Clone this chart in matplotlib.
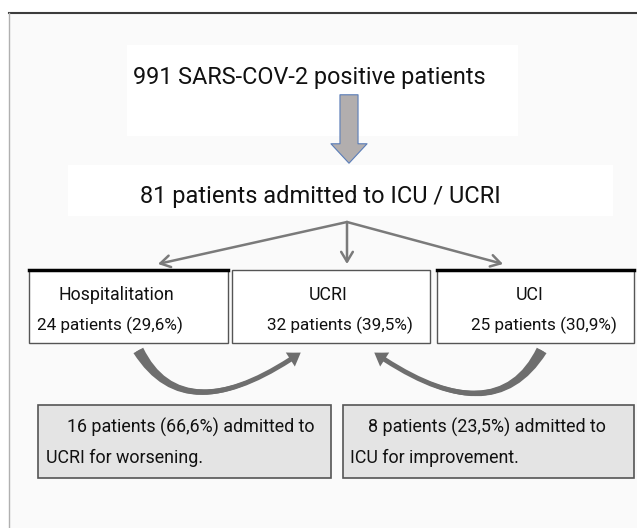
import matplotlib
matplotlib.use('Agg')
import matplotlib.pyplot as plt
from matplotlib import font_manager
from matplotlib.patches import Rectangle, FancyArrowPatch

# flow chart content
total_positive = 991
icu_total = 81
wards = ['Hospitalitation', 'UCRI', 'UCI']
ward_patients = [24, 32, 25]
ward_pct = ['29,6', '39,5', '30,9']
transfer_patients = [16, 8]
transfer_pct = ['66,6', '23,5']
transfer_lines = [['admitted to', 'UCRI for worsening.'],
                  ['admitted to', 'ICU for improvement.']]


def pick_font(names):
    for n in names:
        try:
            font_manager.findfont(n, fallback_to_default=False)
            return n
        except ValueError:
            pass
    return 'DejaVu Sans'


font = pick_font(['Roboto', 'Lato'])
plt.rcParams['font.family'] = [font, 'DejaVu Sans']

fig = plt.figure(figsize=(6.37, 5.28), dpi=100)
ax = fig.add_axes([0, 0, 1, 1])
ax.set_xlim(0, 637)
ax.set_ylim(528, 0)
ax.axis('off')

# frame / background
ax.add_patch(Rectangle((9, 13), 628, 515, facecolor='#fafafa', edgecolor='none'))
ax.plot([9, 637], [13, 13], color='#3c3c3c', lw=1.5)
ax.plot([9, 9], [13, 528], color='#b0b0b0', lw=1)

# top two white labels
ax.add_patch(Rectangle((127, 45), 391, 91, facecolor='white', edgecolor='none'))
ax.text(309, 84, f'{total_positive} SARS-COV-2 positive patients',
        ha='center', va='baseline', fontsize=16.8, color='#111111')

ax.add_patch(FancyArrowPatch((349, 92), (349, 166),
                             arrowstyle='simple,head_length=14,head_width=26,tail_width=13',
                             mutation_scale=1, facecolor='#b2aeae',
                             edgecolor='#5a7db8', lw=0.8))

ax.add_patch(Rectangle((68, 165), 545, 51, facecolor='white', edgecolor='none'))
ax.text(320, 203, f'{icu_total} patients admitted to ICU / UCRI',
        ha='center', va='baseline', fontsize=17, color='#111111')

# split arrows
for tx in [158, 347, 503]:
    ax.annotate('', xy=(tx, 264), xytext=(347, 222),
                arrowprops=dict(arrowstyle='->,head_length=0.5,head_width=0.3',
                                color='#7a7a7a', lw=1.8, mutation_scale=14,
                                shrinkA=0, shrinkB=0))

# ward boxes
box_x = [29, 232, 437]
box_w = [199, 198, 197]
label_x = [116, 328, 530]
count_x = [37, 267, 471]
for i in range(3):
    ax.add_patch(Rectangle((box_x[i], 270), box_w[i], 73, facecolor='white',
                           edgecolor='#555555', lw=1))
    if i != 1:
        ax.plot([box_x[i], box_x[i] + box_w[i]], [270, 270], color='black', lw=2.5)
    ax.text(label_x[i], 300, wards[i], ha='center', va='baseline',
            fontsize=12.8, color='#111111')
    ax.text(count_x[i], 330, f'{ward_patients[i]} patients ({ward_pct[i]}%)',
            ha='left', va='baseline', fontsize=12.3, color='#111111')

# curved transfer arrows: tapering wedge + arrow head
curves = [((137, 348), (303, 351), -62, 35), ((543, 348), (372, 351), 62, -35)]
for start, end, a_in, a_out in curves:
    conn = f'angle3,angleA={a_in},angleB={a_out}'
    ax.add_patch(FancyArrowPatch(start, end, connectionstyle=conn,
                                 arrowstyle='wedge,tail_width=8,shrink_factor=0.5',
                                 mutation_scale=1, facecolor='#6e6e6e',
                                 edgecolor='none'))
    ax.add_patch(FancyArrowPatch(start, end, connectionstyle=conn,
                                 arrowstyle='simple,head_length=9,head_width=12,tail_width=3.5',
                                 mutation_scale=1, facecolor='#6e6e6e',
                                 edgecolor='none'))

# grey transfer boxes
tbox_x = [38, 343]
tbox_w = [293, 291]
line1_x = [67, 368]
line2_x = [46, 350]
for i in range(2):
    ax.add_patch(Rectangle((tbox_x[i], 405), tbox_w[i], 73, facecolor='#e4e4e4',
                           edgecolor='#555555', lw=1.2))
    ax.text(line1_x[i], 433,
            f'{transfer_patients[i]} patients ({transfer_pct[i]}%) {transfer_lines[i][0]}',
            ha='left', va='baseline', fontsize=12.9, color='#111111')
    ax.text(line2_x[i], 463, transfer_lines[i][1], ha='left', va='baseline',
            fontsize=12.9, color='#111111')

fig.savefig('out.png', dpi=100)
